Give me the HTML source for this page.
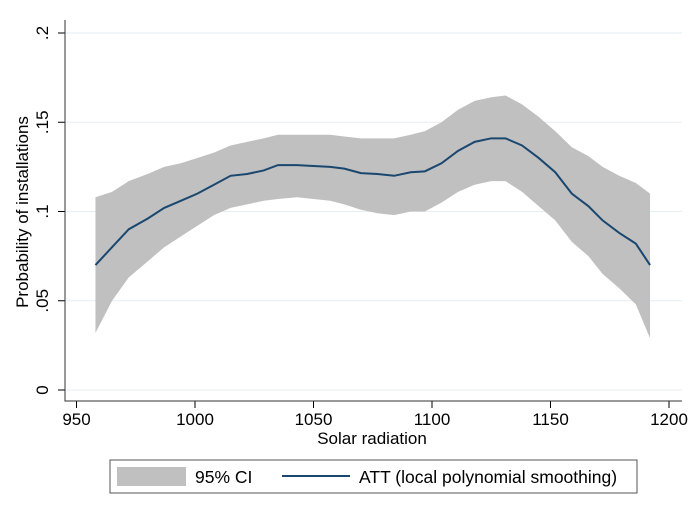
<!DOCTYPE html>
<html><head><meta charset="utf-8"><style>body{margin:0;background:#fff}svg{display:block;font-family:"Liberation Sans",Arial,sans-serif}</style></head>
<body>
<svg id="chart" width="698" height="510" viewBox="0 0 698 510">
<rect width="698" height="510" fill="#fff"/>
<g id="grid"></g><g id="band"></g><g id="line"></g><g id="axes"></g>
<text x="0" y="0" transform="translate(28,212) rotate(-90)" text-anchor="middle" font-size="17">Probability of installations</text>
<text x="372" y="444" text-anchor="middle" font-size="17">Solar radiation</text>
<g>
<rect x="110" y="460" width="527" height="33" fill="#fff" stroke="#555" stroke-width="1"/>
<rect x="117" y="467" width="69" height="19" fill="#c0c0c0"/>
<text x="195" y="483" font-size="17.5">95% CI</text>
<line x1="282" y1="476" x2="350" y2="476" stroke="#1a476f" stroke-width="2"/>
<text x="359" y="483" font-size="17.5">ATT (local polynomial smoothing)</text>
</g>
</svg>
<script>
const xs=[958,965,972,980,987,994,1001,1008,1015,1022,1029,1035,1043,1050,1057,1063,1070,1077,1084,1091,1097,1104,1111,1118,1125,1131,1138,1145,1152,1159,1166,1172,1179,1186,1192];
const att=[.070,.080,.090,.096,.102,.106,.110,.115,.120,.121,.123,.126,.126,.1255,.125,.124,.1215,.121,.120,.122,.1225,.127,.134,.139,.141,.141,.137,.130,.122,.110,.103,.095,.088,.082,.070];
const upper=[.108,.111,.117,.121,.125,.127,.130,.133,.137,.139,.141,.143,.143,.143,.143,.142,.141,.141,.141,.143,.145,.150,.157,.162,.164,.165,.160,.153,.145,.136,.131,.125,.120,.116,.110];
const lower=[.032,.050,.063,.072,.080,.086,.092,.098,.102,.104,.106,.107,.108,.107,.106,.104,.101,.099,.098,.100,.100,.105,.111,.115,.117,.117,.111,.103,.095,.083,.075,.065,.057,.048,.029];
const xTicks=[950,1000,1050,1100,1150,1200];
const yTicks=[0,.05,.1,.15,.2];
const yLabels=["0",".05",".1",".15",".2"];
const X=v=>76.5+(v-950)*2.37, Y=v=>390-v*1785;
const NS="http://www.w3.org/2000/svg";
function mk(p,t,a){const e=document.createElementNS(NS,t);for(const k in a)e.setAttribute(k,a[k]);document.getElementById(p).appendChild(e);return e;}
yTicks.forEach((t,i)=>{
 const g=mk('grid','line',{x1:65,x2:682,y1:Y(t),y2:Y(t),stroke:'#e6eef2','stroke-width':1});
 
 
 const tk=mk('axes','line',{x1:58,x2:65,y1:Y(t),y2:Y(t),stroke:'#000'});
 
 
 const tx=mk('axes','text',{transform:`translate(48,${Y(t)}) rotate(-90)`,'text-anchor':'middle','font-size':17});
 tx.textContent=yLabels[i];
 
 
});
xTicks.forEach(t=>{
 const tk=mk('axes','line',{x1:X(t),x2:X(t),y1:401,y2:408,stroke:'#000'});
 
 
 const tx=mk('axes','text',{x:X(t),y:425,'text-anchor':'middle','font-size':17});
 tx.textContent=t;
 
 
});
const ax=mk('axes','path',{d:'M65,20 V401 H682',fill:'none',stroke:'#333','stroke-width':1});


let d=xs.map((x,i)=>(i?'L':'M')+X(x)+','+Y(upper[i])).join(' ');
for(let i=xs.length-1;i>=0;i--)d+=' L'+X(xs[i])+','+Y(lower[i]);
const b=mk('band','path',{d:d+'Z',fill:'#c0c0c0'});


const l=mk('line','path',{d:xs.map((x,i)=>(i?'L':'M')+X(x)+','+Y(att[i])).join(' '),fill:'none',stroke:'#1a476f','stroke-width':2});


</script>
</body></html>
